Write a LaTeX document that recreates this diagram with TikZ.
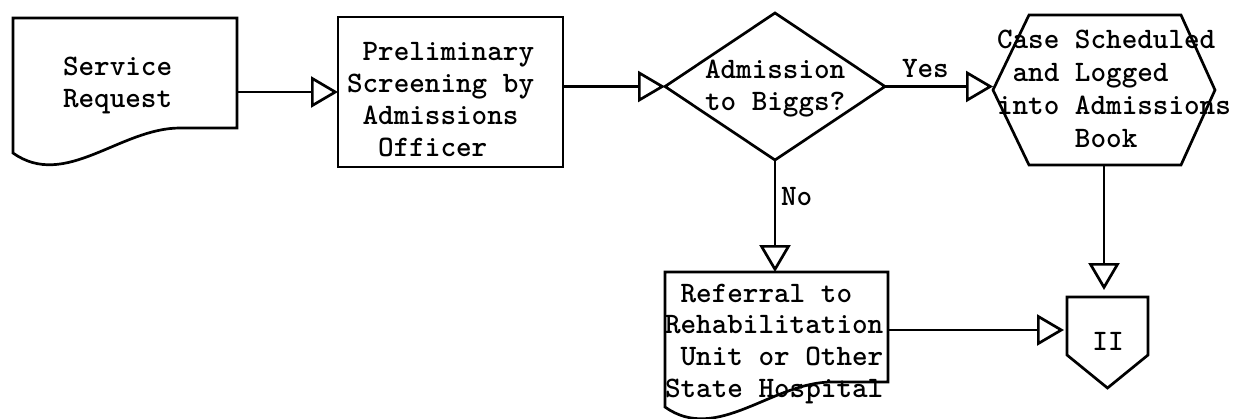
\documentclass[tikz,border=0pt]{standalone}
\usepackage{fontspec}
\newfontfamily\twfont{lmmonolt10-bold.otf}
\usetikzlibrary{arrows.meta,shapes.geometric,calc}
\newcommand\ind{\hphantom{x}}
\newcommand\mlines[2]{\vtop{\baselineskip=#1pt\lineskiplimit=-1000pt\halign{##\hfil\cr#2\crcr}}}
\begin{document}
\begin{tikzpicture}[x=1pt,y=-1pt,line width=2.7pt,line join=miter,
  txt/.style={font=\twfont\fontsize{29.7}{32}\selectfont,inner sep=0pt,outer sep=0pt,anchor=base west},
  shp/.style={draw=none,rectangle,inner sep=0pt,outer sep=0pt},
  arr/.style={-{Triangle[open,length=27pt,width=31pt]}}]
\useasboundingbox (0,0) rectangle (1240,418);

% Service request (document)
\node[shp,minimum width=224pt,minimum height=110pt] (sr) at (125,73) {};
\draw (13,153) -- (13,18) -- (237,18) -- (237,128) -- (180,128)
      .. controls (120,128) and (65,190) .. (13,153) -- cycle;
\node[txt] (srt) at (63,75) {\mlines{32}{Service\cr Request}};

% Preliminary screening (process)
\node[shp,draw,minimum width=225pt,minimum height=150pt] (pre) at (450.5,92) {};
\node[txt] (pret) at (347,60) {\mlines{32.3}{\ind Preliminary\cr Screening by\cr \ind Admissions\cr \ind\ind Officer}};

% Decision
\node[draw,diamond,minimum width=220pt,minimum height=147pt,inner sep=0pt,outer sep=0pt] (dia) at (775,86.5) {};
\node[txt] (diat) at (705,78) {\mlines{32}{Admission\cr to Biggs?}};

% Hexagon (preparation)
\node[shp,minimum width=222pt,minimum height=150pt] (hex) at (1104,90) {};
\draw (hex.west) -- ($(hex.north west)+(36,0)$) -- ($(hex.north east)+(-34,0)$)
      -- (hex.east) -- ($(hex.south east)+(-34,0)$) -- ($(hex.south west)+(36,0)$) -- cycle;
\node[txt] (hext) at (997,48) {\mlines{33}{Case Scheduled\cr \ind and Logged\cr into Admissions\cr \ind\ind\ind\ind\ind Book}};

% Referral (document)
\node[shp,minimum width=223pt,minimum height=110pt] (ref) at (776.5,327) {};
\draw (665,407) -- (665,272) -- (888,272) -- (888,382) -- (832,382)
      .. controls (772,382) and (717,444) .. (665,407) -- cycle;
\node[txt] (reft) at (665,302) {\mlines{31.7}{\ind Referral to\cr Rehabilitation\cr \ind Unit or Other\cr State Hospital}};

% Off-page connector
\node[shp,minimum width=81pt,minimum height=58pt] (pent) at (1107.5,326) {};
\draw (pent.south west) -- (pent.north west) -- (pent.north east) -- (pent.south east)
      -- ($(pent.south)+(0,33)$) -- cycle;
\node[txt,anchor=base] (pentt) at (1108,350) {II};

% Connectors
\draw[arr] (sr.east |- pre.west) -- (pre.west);
\draw[arr] (pre.east |- dia.west) -- (dia.west);
\draw[arr] (dia.east) -- (dia.east -| hex.west);
\draw[arr] (dia.south) -- (dia.south |- ref.north);
\draw[arr,shorten >=7pt] (hex.south) -- (hex.south |- pent.north);
\draw[arr,shorten >=3pt] (ref.east |- 0,330) -- (pent.west |- 0,330);

% Labels
\node[txt] (yes) at (902,77) {Yes};
\node[txt] (no) at (781,205) {No};
\end{tikzpicture}
\end{document}
